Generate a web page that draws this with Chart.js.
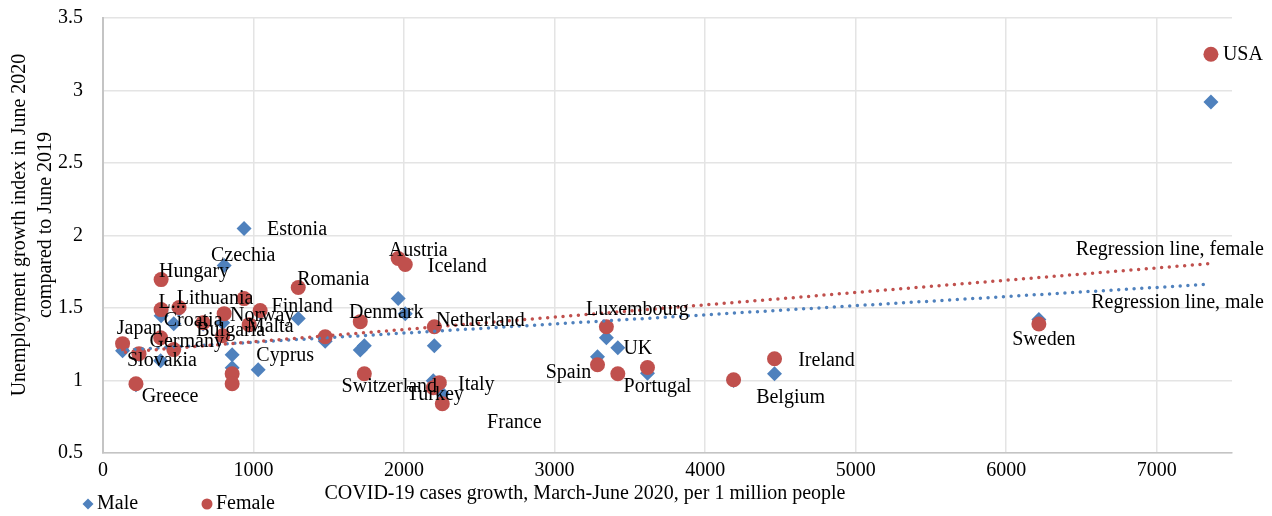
<!DOCTYPE html>
<html>
<head>
<meta charset="utf-8">
<script src="https://cdn.jsdelivr.net/npm/chart.js@4"></script>
<style>
  body { margin: 0; background: #fff; }
  #wrap { width: 1272px; height: 516px; }
</style>
</head>
<body>
<div id="wrap"><canvas id="unemploymentChart" width="1272" height="516"></canvas></div>
<script>
// data
var countries = ['USA', 'Sweden', 'Ireland', 'Belgium', 'UK', 'Portugal', 'Spain', 'Luxembourg',
    'Netherland', 'Austria', 'Iceland', 'Denmark', 'Switzerland', 'Italy', 'Turkey', 'France',
    'Romania', 'Finland', 'Malta', 'Estonia', 'Czechia', 'Hungary', 'Latvia', 'Lithuania',
    'Croatia', 'Norway', 'Bulgaria', 'Germany', 'Japan', 'Slovakia', 'Greece', 'Cyprus',
    'Slovenia', 'Serbia', 'Poland'];
var labelText = ['USA', 'Sweden', 'Ireland', 'Belgium', 'UK', 'Portugal', 'Spain', 'Luxembourg',
    'Netherland', 'Austria', 'Iceland', 'Denmark', 'Switzerland', 'Italy', 'Turkey', 'France',
    'Romania', 'Finland', 'Malta', 'Estonia', 'Czechia', 'Hungary', 'L...', 'Lithuania',
    'Croatia', 'Norway', 'Bulgaria', 'Germany', 'Japan', 'Slovakia', 'Greece', 'Cyprus',
    '', '', ''];
var casesPerMillion = [7360, 6217, 4461, 4189, 3420, 3617, 3285, 3344,
    2201, 1961, 2008, 1709, 1736, 2234, 2194, 2254,
    1297, 1044, 1476, 937, 805, 386, 386, 505,
    665, 971, 795, 470, 130, 239, 219, 1031,
    858, 858, 383];
var maleIndex = [2.92, 1.42, 1.047, 1.0, 1.226, 1.05, 1.164, 1.295,
    1.24, 1.565, 1.461, 1.21, 1.24, 0.97, 0.998, 0.908,
    1.427, 1.47, 1.27, 2.049, 1.793, 1.447, 1.48, 1.49,
    1.39, 1.38, 1.399, 1.392, 1.206, 1.18, 0.97, 1.074,
    1.178, 1.088, 1.136];
var femaleIndex = [3.25, 1.39, 1.15, 1.005, 1.047, 1.09, 1.109, 1.371,
    1.371, 1.841, 1.80, 1.406, 1.047, 0.985, 0.95, 0.84,
    1.641, 1.482, 1.302, 1.565, 1.461, 1.696, 1.489, 1.503,
    1.399, 1.385, 1.309, 1.213, 1.254, 1.185, 0.978, null,
    1.047, 0.978, 1.295];

// trendline end points as seen in the picture
var regFemaleX = [150, 7360];
var regFemaleY = [1.195, 1.807];
var regMaleX = [110, 7320];
var regMaleY = [1.208, 1.662];

var xTicks = [0, 1000, 2000, 3000, 4000, 5000, 6000, 7000];
var yTicks = [0.5, 1, 1.5, 2, 2.5, 3, 3.5];

// label placement: [dx, dy, anchor series] in px from the marker
var labelOffsets = [
    [32, 0, 'f'], [5, 16, 'f'], [52, 2, 'f'], [57, 18, 'f'], [20, -25, 'f'], [10, 19, 'f'],
    [-29, 8, 'f'], [31, -17, 'f'], [46, -6, 'f'], [20, -8, 'f'], [52, 2, 'f'], [26, -9, 'f'],
    [25, 13, 'f'], [37, 2, 'f'], [2, 7, 'f'], [72, 19, 'f'], [35, -8, 'f'], [42, -4, 'f'],
    [-55, -10, 'f'], [53, 1, 'm'], [19, -10, 'm'], [33, -8, 'f'], [11, -7, 'f'], [36, -9, 'f'],
    [-10, -2, 'f'], [13, -9, 'f'], [8, -5, 'f'], [13, -8, 'f'], [17, -15, 'f'], [23, 7, 'f'],
    [34, 13, 'f'], [27, -14, 'm'], null, null, null
];

var BLUE = '#4F81BD',
    RED = '#C0504D',
    FONT = '"Liberation Serif", "Times New Roman", serif';

function points(xs, ys) {
    var out = [];
    for (var i = 0; i < xs.length; i++) {
        if (ys[i] !== null) out.push({ x: xs[i], y: ys[i] });
    }
    return out;
}

var textPlugin = {
    id: 'chartTexts',
    afterDatasetsDraw: function(chart) {
        var ctx = chart.ctx,
            sx = chart.scales.x,
            sy = chart.scales.y;

        ctx.save();
        ctx.font = '20px ' + FONT;
        ctx.fillStyle = '#000';
        ctx.textAlign = 'center';
        ctx.textBaseline = 'middle';

        // country labels
        countries.forEach(function(name, i) {
            var off = labelOffsets[i];
            if (!off || !labelText[i]) return;
            var v = off[2] === 'm' ? maleIndex[i] : femaleIndex[i];
            ctx.fillText(labelText[i],
                sx.getPixelForValue(casesPerMillion[i]) + off[0],
                sy.getPixelForValue(v) + off[1]);
        });

        // trendline labels
        ctx.textAlign = 'right';
        ctx.fillText('Regression line, female',
            sx.getPixelForValue(regFemaleX[1]) + 53, sy.getPixelForValue(regFemaleY[1]) - 14);
        ctx.fillText('Regression line, male',
            sx.getPixelForValue(regMaleX[1]) + 59, sy.getPixelForValue(regMaleY[1]) + 18);

        // axis titles
        ctx.textAlign = 'center';
        ctx.fillText('COVID-19 cases growth, March-June 2020, per 1 million people', 585, 494);
        ctx.save();
        ctx.translate(33, 225);
        ctx.rotate(-Math.PI / 2);
        ctx.fillText('Unemployment growth index in June 2020', 0, -13);
        ctx.fillText('compared to June 2019', 0, 13);
        ctx.restore();

        // legend
        ctx.fillStyle = BLUE;
        ctx.beginPath();
        ctx.moveTo(88, 498.5); ctx.lineTo(93.5, 504); ctx.lineTo(88, 509.5); ctx.lineTo(82.5, 504);
        ctx.closePath();
        ctx.fill();
        ctx.fillStyle = RED;
        ctx.beginPath();
        ctx.arc(207, 504, 5.5, 0, Math.PI * 2);
        ctx.fill();
        ctx.fillStyle = '#000';
        ctx.textAlign = 'left';
        ctx.fillText('Male', 97, 504);
        ctx.fillText('Female', 216, 504);

        ctx.restore();
    }
};

var ctx = document.getElementById('unemploymentChart');
var unemploymentChart = new Chart(ctx, {
    type: 'scatter',
    data: {
        datasets: [
            {
                label: 'Regression line, female',
                type: 'line',
                data: points(regFemaleX, regFemaleY),
                borderColor: RED,
                borderWidth: 3.5,
                borderDash: [0, 7.7],
                borderCapStyle: 'round',
                pointRadius: 0,
                fill: false,
                order: 0
            },
            {
                label: 'Regression line, male',
                type: 'line',
                data: points(regMaleX, regMaleY),
                borderColor: BLUE,
                borderWidth: 3.5,
                borderDash: [0, 7.7],
                borderCapStyle: 'round',
                pointRadius: 0,
                fill: false,
                order: 0
            },
            {
                label: 'Female',
                data: points(casesPerMillion, femaleIndex),
                backgroundColor: RED,
                borderColor: RED,
                borderWidth: 0,
                pointStyle: 'circle',
                pointRadius: 7.5,
                order: 1
            },
            {
                label: 'Male',
                data: points(casesPerMillion, maleIndex),
                backgroundColor: BLUE,
                borderColor: BLUE,
                borderWidth: 0,
                pointStyle: 'rectRot',
                pointRadius: 7.5,
                order: 2
            }
        ]
    },
    options: {
        responsive: false,
        animation: false,
        devicePixelRatio: 1,
        layout: { padding: { left: 56, right: 40, top: 18, bottom: 27 } },
        plugins: {
            legend: { display: false },
            tooltip: { enabled: false }
        },
        scales: {
            x: {
                type: 'linear',
                min: 0,
                max: 7500,
                afterBuildTicks: function(axis) {
                    axis.ticks = xTicks.map(function(v) { return { value: v }; });
                },
                ticks: {
                    color: '#000', font: { family: FONT, size: 20 }, padding: 6, maxRotation: 0,
                    callback: function(v) { return String(v); }
                },
                grid: { color: '#e4e4e4', lineWidth: 1.5, drawTicks: false },
                border: { color: '#c4c4c4', width: 1.5 }
            },
            y: {
                type: 'linear',
                min: 0.5,
                max: 3.5,
                afterBuildTicks: function(axis) {
                    axis.ticks = yTicks.map(function(v) { return { value: v }; });
                },
                ticks: {
                    color: '#000', font: { family: FONT, size: 20 }, padding: 2,
                    callback: function(v) { return String(v); }
                },
                grid: { color: '#e4e4e4', lineWidth: 1.5, drawTicks: true, tickLength: 18, tickColor: 'rgba(0,0,0,0)' },
                border: { color: '#c4c4c4', width: 2 }
            }
        }
    },
    plugins: [textPlugin]
});
</script>
</body>
</html>
